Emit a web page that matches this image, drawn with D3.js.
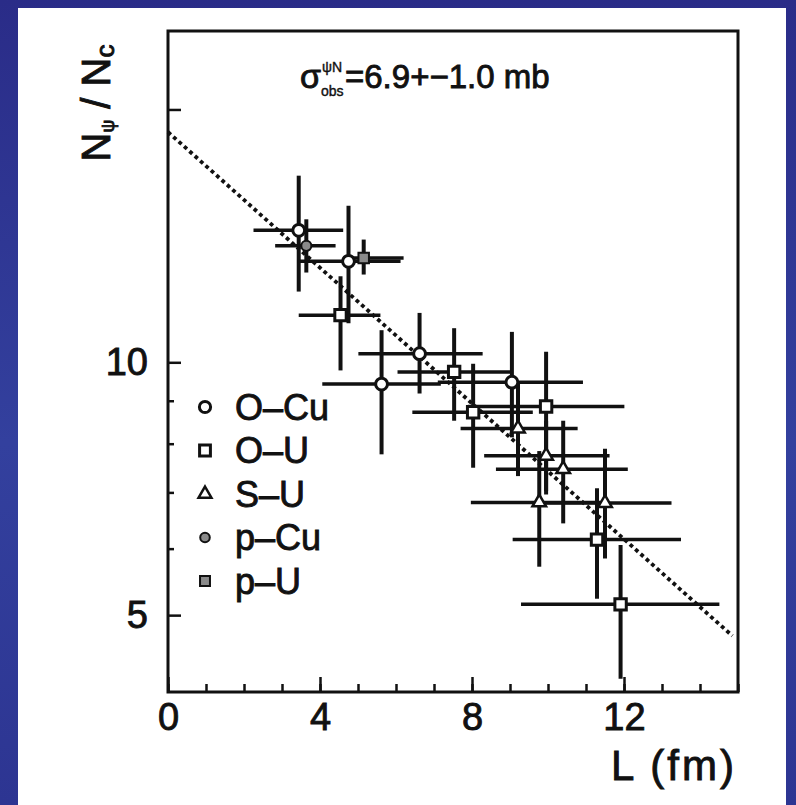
<!DOCTYPE html>
<html><head><meta charset="utf-8">
<script src="https://cdn.jsdelivr.net/npm/d3@7"></script>
<style>
html,body{margin:0;padding:0;background:#fff;}
svg{display:block;}
text{font-family:"Liberation Sans",Arial,sans-serif;fill:#111;stroke:#111;stroke-width:0.9px;}
</style>
</head><body>
<svg id="chart" width="796" height="805"></svg>
<script>
// J/psi over continuum ratio versus nuclear path length L

// legend order of the collision systems
const systems = ["O–Cu", "O–U", "S–U", "p–Cu", "p–U"];

// each point: [L, ratio, L low, L high, ratio low, ratio high]
const oCu = [
  [3.44, 14.36, 2.25, 4.61, 12.14, 16.68],
  [4.75, 13.19, 3.40, 6.12, 11.13, 15.36],
  [5.62,  9.42, 4.06, 7.18,  7.77, 10.92],
  [6.62, 10.24, 5.01, 8.28,  9.18, 11.45],
  [9.05,  9.47, 7.10, 10.92, 8.14, 10.87]
];
const oU = [
  [4.54, 11.38, 3.44, 5.59,  9.78, 12.66],
  [7.53,  9.74, 6.04, 9.02,  8.52, 10.98],
  [8.03,  8.72, 6.43, 9.60,  7.49,  9.96],
  [9.95,  8.86, 7.89, 12.01, 7.02, 10.29],
  [11.29, 6.15, 9.07, 13.50, 5.23,  7.08],
  [11.91, 5.15, 9.29, 14.51, 4.20,  6.06]
];
const sU = [
  [9.21, 8.34, 7.70, 10.78, 7.32, 9.43],
  [9.95, 7.74, 8.32, 11.62, 6.96, 8.52],
  [10.40, 7.46, 8.63, 12.10, 6.43, 8.52],
  [9.77, 6.81, 7.97, 11.56, 5.71, 7.84],
  [11.50, 6.80, 9.76, 13.25, 5.84, 7.89]
];
const pCu = [[3.64, 13.76, 2.82, 4.41, 12.79, 14.80]];
const pU  = [[5.15, 13.31, 4.80, 6.20, 12.72, 14.00]];

// absorption fit N = A exp(-rho sigma L)
const fitNorm = 18.8;
const fitAtten = 0.093;
const fitRange = [0, 14.85];

// axes
const xDomain = [0, 15];
const yDomain = [4.05, 24.8];
const xMajor = [0, 4, 8, 12];
const xMinor = d3.range(0, 16);
const yMajor = [5, 10, 20];
const yLabelled = [5, 10];
const yMinor = [6, 7, 8, 9];

const svg = d3.select("#chart");
const W = 796, H = 805;

// slide background and white page
const defs = svg.append("defs");
const grad = defs.append("linearGradient").attr("id", "bg")
  .attr("x1", 0).attr("y1", 0).attr("x2", 0).attr("y2", 1);
grad.append("stop").attr("offset", "0%").attr("stop-color", "#2a2c88");
grad.append("stop").attr("offset", "55%").attr("stop-color", "#33409e");
grad.append("stop").attr("offset", "100%").attr("stop-color", "#2d3592");
svg.append("rect").attr("width", W).attr("height", H).attr("fill", "url(#bg)");
svg.append("rect").attr("x", 18).attr("y", 8).attr("width", 768).attr("height", H - 8).attr("fill", "#fff");

const plotL = 168, plotR = 738, plotT = 31, plotB = 692;
const x = d3.scaleLinear().domain(xDomain).range([plotL, plotR]);
const y = d3.scaleLog().domain(yDomain).range([plotB, plotT]);

const ink = "#111";

// frame
svg.append("rect").attr("x", plotL).attr("y", plotT)
  .attr("width", plotR - plotL).attr("height", plotB - plotT)
  .attr("fill", "none").attr("stroke", ink).attr("stroke-width", 3);

// x axis: inward ticks
const xAxisMinor = d3.axisBottom(x).tickValues(xMinor).tickSizeInner(-8).tickSizeOuter(0).tickFormat("");
const xAxis = d3.axisBottom(x).tickValues(xMajor).tickSizeInner(-15).tickSizeOuter(0).tickPadding(11).tickFormat(d3.format("d"));
[xAxisMinor, xAxis].forEach(ax => {
  const g = svg.append("g").attr("transform", `translate(0,${plotB})`).call(ax);
  g.select(".domain").remove();
  g.selectAll(".tick line").attr("stroke", ink).attr("stroke-width", 2.5);
  g.selectAll("text").attr("font-size", 38).attr("fill", ink).attr("stroke", ink)
    .style("font-family", "Liberation Sans, Arial, sans-serif");
});

// y axis: log scale, inward ticks
const yAxisMinor = d3.axisLeft(y).tickValues(yMinor).tickSizeInner(-6).tickSizeOuter(0).tickFormat("");
const yAxis = d3.axisLeft(y).tickValues(yMajor).tickSizeInner(-13).tickSizeOuter(0).tickPadding(20)
  .tickFormat(d => yLabelled.includes(d) ? d3.format("d")(d) : "");
[yAxisMinor, yAxis].forEach(ax => {
  const g = svg.append("g").attr("transform", `translate(${plotL},0)`).call(ax);
  g.select(".domain").remove();
  g.selectAll(".tick line").attr("stroke", ink).attr("stroke-width", 2.5);
  g.selectAll("text").attr("font-size", 38).attr("fill", ink).attr("stroke", ink)
    .style("font-family", "Liberation Sans, Arial, sans-serif");
});

// fit line (dotted)
const fitLine = d3.line().x(d => x(d)).y(d => y(fitNorm * Math.exp(-fitAtten * d)));
svg.append("path").attr("d", fitLine(fitRange))
  .attr("fill", "none").attr("stroke", ink).attr("stroke-width", 3.8)
  .attr("stroke-dasharray", "3.8,3.4");

// data series
const series = [
  {name: systems[0], pts: oCu, sym: d3.symbolCircle, size: 110, fill: "#fff", sw: 3},
  {name: systems[1], pts: oU,  sym: d3.symbolSquare, size: 130, fill: "#fff", sw: 3},
  {name: systems[2], pts: sU,  sym: d3.symbolTriangle, size: 80, fill: "#fff", sw: 2.5},
  {name: systems[3], pts: pCu, sym: d3.symbolCircle, size: 80, fill: "#8a8a8a", sw: 2},
  {name: systems[4], pts: pU,  sym: d3.symbolSquare, size: 110, fill: "#8a8a8a", sw: 2}
];

const bars = svg.append("g");
series.forEach(s => {
  s.pts.forEach(p => {
    bars.append("line").attr("x1", x(p[2])).attr("x2", x(p[3]))
      .attr("y1", y(p[1])).attr("y2", y(p[1]))
      .attr("stroke", ink).attr("stroke-width", 3.5);
    bars.append("line").attr("x1", x(p[0])).attr("x2", x(p[0]))
      .attr("y1", y(p[4])).attr("y2", y(p[5]))
      .attr("stroke", ink).attr("stroke-width", 4);
  });
});

const marks = svg.append("g");
series.forEach(s => {
  marks.selectAll(null).data(s.pts).enter().append("path")
    .attr("d", d3.symbol().type(s.sym).size(s.size))
    .attr("transform", d => `translate(${x(d[0])},${y(d[1])})`)
    .attr("fill", s.fill).attr("stroke", ink).attr("stroke-width", s.sw);
});

// legend
const legend = svg.append("g");
series.forEach((s, i) => {
  const ly = 407 + i * 43.5;
  legend.append("path")
    .attr("d", d3.symbol().type(s.sym).size(s.size * 0.9))
    .attr("transform", `translate(205,${ly})`)
    .attr("fill", s.fill).attr("stroke", ink).attr("stroke-width", s.sw);
  legend.append("text").attr("x", 235).attr("y", ly).attr("dy", "0.36em")
    .attr("font-size", 36).text(s.name);
});

// cross-section annotation
svg.append("text").attr("x", 300).attr("y", 88).attr("font-size", 34).text("σ");
svg.append("text").attr("x", 322).attr("y", 72).attr("font-size", 14).style("stroke-width", "0.4px").text("ψN");
svg.append("text").attr("x", 321).attr("y", 96).attr("font-size", 14).style("stroke-width", "0.4px").text("obs");
svg.append("text").attr("x", 345).attr("y", 88).attr("font-size", 33).text("=6.9+−1.0 mb");

// axis titles
svg.append("text").attr("x", 737).attr("y", 780).attr("text-anchor", "end")
  .attr("font-size", 42).attr("letter-spacing", 3).text("L (fm)");

const yt = svg.append("text").attr("transform", "translate(110,103) rotate(-90)")
  .attr("text-anchor", "middle").attr("font-size", 40);
yt.append("tspan").text("N");
yt.append("tspan").attr("font-size", 18).attr("dy", 4).text("ψ");
yt.append("tspan").attr("dy", -4).text(" / N");
yt.append("tspan").attr("font-size", 26).attr("dy", 4).text("c");
</script>
</body></html>
